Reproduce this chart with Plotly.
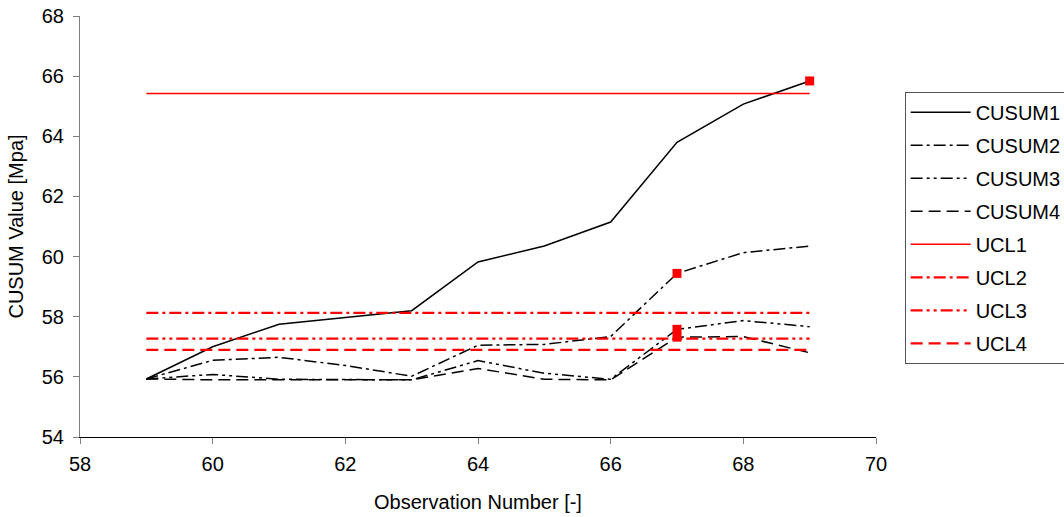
import plotly.graph_objects as go

obs = [59, 60, 61, 62, 63, 64, 65, 66, 67, 68, 69]
cusum1 = [55.93, 57.0, 57.75, 57.97, 58.2, 59.82, 60.35, 61.15, 63.8, 65.07, 65.84]
cusum2 = [55.93, 56.55, 56.65, 56.38, 56.02, 57.05, 57.08, 57.34, 59.44, 60.13, 60.35]
cusum3 = [55.93, 56.08, 55.92, 55.9, 55.9, 56.54, 56.12, 55.92, 57.58, 57.87, 57.67]
cusum4 = [55.93, 55.9, 55.9, 55.9, 55.9, 56.28, 55.92, 55.9, 57.32, 57.34, 56.8]
ucl = {"UCL1": 65.42, "UCL2": 58.13, "UCL3": 57.27, "UCL4": 56.9}
signal_idx = {"CUSUM1": [10], "CUSUM2": [8], "CUSUM3": [8], "CUSUM4": [8]}

cusums = {"CUSUM1": cusum1, "CUSUM2": cusum2, "CUSUM3": cusum3, "CUSUM4": cusum4}
dashes = {
    "CUSUM1": "solid",
    "CUSUM2": "12px,4px,3px,4px",
    "CUSUM3": "12px,4px,3px,4px,3px,4px",
    "CUSUM4": "12px,6px",
}
ucl_dashes = {
    "UCL1": "solid",
    "UCL2": "12px,4px,3px,4px",
    "UCL3": "12px,4px,3px,4px,3px,4px",
    "UCL4": "12px,6px",
}

FONT = "Liberation Sans, Arial, sans-serif"
FS = 20
fig = go.Figure()
for name, vals in cusums.items():
    fig.add_trace(go.Scatter(
        x=obs, y=vals, name=name, mode="lines", legendgroup=name,
        line=dict(color="black", width=1.5, dash=dashes[name]),
    ))
for name, v in ucl.items():
    fig.add_trace(go.Scatter(
        x=[obs[0], obs[-1]], y=[v, v], name=name, mode="lines", legendgroup=name,
        line=dict(color="red", width=1.5 if name == "UCL1" else 2.2, dash=ucl_dashes[name]),
    ))
sx, sy = [], []
for name, idxs in signal_idx.items():
    for i in idxs:
        sx.append(obs[i])
        sy.append(cusums[name][i])
fig.add_trace(go.Scatter(
    x=sx, y=sy, mode="markers", showlegend=False,
    marker=dict(symbol="square", color="red", size=9, line=dict(width=0)),
))

fig.update_layout(
    width=1064, height=517,
    paper_bgcolor="white", plot_bgcolor="white",
    margin=dict(l=80, r=188, t=16, b=80, autoexpand=False),
    font=dict(family=FONT, size=FS, color="black"),
    legend=dict(
        x=1.036, y=0.82, xanchor="left", yanchor="top",
        bordercolor="#555555", borderwidth=1, bgcolor="white",
        font=dict(family=FONT, size=FS, color="black"),
        tracegroupgap=4, itemwidth=60,
    ),
    xaxis=dict(
        range=[58, 70], dtick=2, tick0=58, showgrid=False, zeroline=False,
        showline=True, linecolor="black", linewidth=1,
        ticks="outside", ticklen=6, tickcolor="#808080",
        tickfont=dict(size=FS), ticklabelstandoff=3,
        title=dict(text="Observation Number [-]", font=dict(size=FS), standoff=20),
    ),
    yaxis=dict(
        range=[54, 68], dtick=2, tick0=54, showgrid=False, zeroline=False,
        showline=True, linecolor="#808080", linewidth=1,
        ticks="outside", ticklen=6, tickcolor="#808080",
        tickfont=dict(size=FS), ticklabelstandoff=5,
        title=dict(text="CUSUM Value [Mpa]", font=dict(size=FS), standoff=12),
    ),
)

fig.write_html("out.html")
